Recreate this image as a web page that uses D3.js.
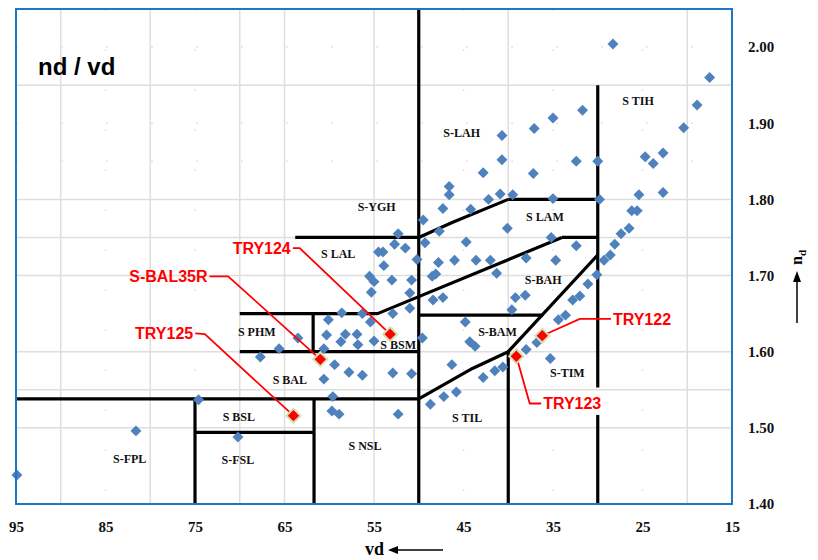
<!DOCTYPE html>
<html><head><meta charset="utf-8">
<script src="https://cdn.jsdelivr.net/npm/d3@7"></script>
<style>body{margin:0;background:#fff;} svg{display:block;}</style>
</head><body><svg id="c" width="818" height="560"></svg>
<script>
// ---------- data ----------
const xTicks = [95, 85, 75, 65, 55, 45, 35, 25, 15];
const yTicks = [1.40, 1.50, 1.60, 1.70, 1.80, 1.90, 2.00];
const gridSolidX = [90, 80, 70, 65, 55, 40, 20];
const gridDotX = [85, 75, 45, 35, 25];
const gridSolidY = [1.95, 1.80, 1.75, 1.70, 1.60, 1.55, 1.50];
const gridDotY = [2.00, 1.90, 1.85];

// glass points [vd, nd]
const glasses = [
 [28.3,2.004],[17.5,1.960],[18.9,1.924],[20.4,1.894],[31.7,1.917],[35.0,1.907],[37.1,1.893],[40.7,1.884],
 [40.7,1.852],[42.8,1.835],[37.2,1.834],[32.4,1.850],[30.0,1.850],[24.7,1.856],[23.8,1.847],[22.7,1.861],
 [46.6,1.817],[46.6,1.806],[40.9,1.807],[39.5,1.806],[42.2,1.800],[44.2,1.787],[47.3,1.788],[49.5,1.773],
 [35.0,1.801],[29.8,1.800],[25.4,1.806],[22.7,1.809],[26.2,1.785],[25.6,1.785],[26.5,1.762],[27.4,1.755],
 [28.1,1.741],[28.6,1.727],[29.3,1.720],[30.1,1.701],
 [40.1,1.762],[35.2,1.750],[32.4,1.739],[34.7,1.720],[38.0,1.723],[42.0,1.720],[43.6,1.720],[46.0,1.720],
 [47.8,1.717],[50.2,1.721],[51.5,1.736],[52.3,1.755],[52.7,1.741],[47.7,1.758],[49.3,1.743],[44.7,1.744],
 [41.3,1.703],[48.5,1.699],[48.1,1.702],[50.8,1.694],[51.0,1.677],[51.0,1.657],[48.4,1.668],[47.3,1.671],
 [39.2,1.671],[38.1,1.674],[39.6,1.655],[44.8,1.639],
 [31.1,1.689],[32.0,1.673],[32.8,1.668],[33.6,1.648],[34.4,1.642],
 [44.3,1.613],[43.7,1.607],[46.3,1.583],[42.8,1.566],[41.5,1.575],[40.6,1.580],[48.7,1.531],[47.2,1.541],
 [45.8,1.547],[38.0,1.603],[36.8,1.612],[35.3,1.591],[49.6,1.618],[50.8,1.571],[52.3,1.518],
 [54.5,1.731],[54.0,1.731],[53.9,1.713],[55.5,1.699],[55.0,1.692],[53.0,1.694],[55.3,1.678],[52.9,1.650],
 [55.4,1.639],[58.6,1.651],[60.1,1.642],[60.3,1.622],[58.2,1.623],[56.9,1.623],[56.3,1.650],[58.7,1.613],
 [56.8,1.609],[55.0,1.614],[60.6,1.604],[63.5,1.618],[65.6,1.604],[67.7,1.593],[59.4,1.583],[57.8,1.573],
 [56.3,1.569],[52.9,1.572],[60.6,1.564],[59.6,1.541],[59.7,1.522],[58.9,1.518],
 [70.2,1.488],[74.6,1.537],[94.9,1.438],[81.6,1.496]
];

// highlighted glasses: name, marker [vd,nd], label [vd,nd], elbow [vd,nd], side
const highlightNames = ["TRY124", "S-BAL35R", "TRY125", "TRY122", "TRY123"];
const highlightPts = [[53.2,1.623],[61.0,1.590],[64.0,1.516],[36.2,1.621],[39.1,1.594]];
const highlightLabelPts = [[64.3,1.736],[73.6,1.699],[75.2,1.624],[28.3,1.643],[36.1,1.532]];
const highlightElbows = [[63.3,1.736],[71.3,1.699],[73.9,1.623],[32.0,1.643],[37.6,1.532]];
const highlightAnchor = ["end","end","end","start","start"];

// glass region boundaries (polylines, [vd, nd])
const boundaries = [
 [[50,2.05],[50,1.40]],
 [[30,1.95],[30,1.553]],
 [[30,1.517],[30,1.40]],
 [[40,1.80],[30,1.80]],
 [[50,1.75],[46.2,1.770],[40,1.80]],
 [[63.8,1.75],[50,1.75]],
 [[34,1.75],[30,1.75]],
 [[70,1.65],[54.6,1.65],[34,1.75]],
 [[50,1.648],[36.1,1.648]],
 [[70,1.60],[50,1.60]],
 [[61.8,1.65],[61.8,1.60]],
 [[95,1.538],[50,1.538],[44,1.578],[40,1.60],[30,1.727]],
 [[40,1.60],[40,1.40]],
 [[75,1.538],[75,1.40]],
 [[75,1.494],[61.7,1.494]],
 [[61.7,1.538],[61.7,1.40]]
];

// region names and their centres [vd, nd]
const regionNames = ["S-YGH","S LAL","S-LAH","S TIH","S LAM","S-BAH","S-BAM","S PHM","S BSM","S BAL","S BSL","S-FSL","S NSL","S TIL","S-TIM","S-FPL"];
const regionPts = [[54.7,1.790],[59.0,1.728],[45.2,1.887],[25.5,1.930],[35.9,1.777],[36.1,1.695],[41.2,1.626],[68.1,1.626],[52.3,1.609],[64.4,1.563],[70.1,1.514],[70.2,1.458],[56.0,1.476],[44.6,1.513],[33.4,1.572],[82.3,1.460]];

// ---------- chart ----------
const svg = d3.select("#c");
const x = d3.scaleLinear().domain([95, 15]).range([16, 732]);
const y = d3.scaleLinear().domain([1.40, 2.05]).range([504, 9]);
const X0 = x.range()[0], X1 = x.range()[1], Y0 = y.range()[0], Y1 = y.range()[1];

const grid = svg.append("g");
grid.selectAll("line.gsx").data(gridSolidX).join("line")
  .attr("x1", d => x(d)).attr("x2", d => x(d)).attr("y1", Y1).attr("y2", Y0)
  .attr("stroke", "#dedede").attr("stroke-width", 1.5);
grid.selectAll("line.gdx").data(gridDotX).join("line")
  .attr("x1", d => x(d)).attr("x2", d => x(d)).attr("y1", Y1).attr("y2", Y0)
  .attr("stroke", "#e4e4e4").attr("stroke-width", 1.5).attr("stroke-dasharray", "2,38");
grid.selectAll("line.gsy").data(gridSolidY).join("line")
  .attr("y1", d => y(d)).attr("y2", d => y(d)).attr("x1", X0).attr("x2", X1)
  .attr("stroke", "#dedede").attr("stroke-width", 1.5);
grid.selectAll("line.gdy").data(gridDotY).join("line")
  .attr("y1", d => y(d)).attr("y2", d => y(d)).attr("x1", X0).attr("x2", X1)
  .attr("stroke", "#e4e4e4").attr("stroke-width", 1.5).attr("stroke-dasharray", "2,43");

// boundaries
const line = d3.line().x(d => x(d[0])).y(d => y(d[1]));
svg.append("g").selectAll("path").data(boundaries).join("path")
  .attr("d", line).attr("fill", "none").attr("stroke", "#000")
  .attr("stroke-width", 3.2).attr("stroke-linejoin", "round");

// glass points
const diamond = d3.symbol(d3.symbolSquare, 60);
svg.append("g").selectAll("path").data(glasses).join("path")
  .attr("d", diamond)
  .attr("transform", d => `translate(${x(d[0])},${y(d[1])}) rotate(45)`)
  .attr("fill", "#4f81bd");

// region labels
svg.append("g").selectAll("text").data(regionNames).join("text")
  .attr("x", (d, i) => x(regionPts[i][0])).attr("y", (d, i) => y(regionPts[i][1]))
  .attr("dy", "0.35em").attr("text-anchor", "middle")
  .attr("font-family", "'Liberation Serif', 'Times New Roman', serif")
  .attr("font-weight", "bold").attr("font-size", 12).attr("fill", "#111")
  .text(d => d);

// highlighted glasses
const hl = svg.append("g");
hl.selectAll("path.lead").data(highlightNames).join("path")
  .attr("d", (d, i) => {
    const lp = highlightLabelPts[i];
    const s = highlightAnchor[i] === "end" ? 2 : -2;
    return `M${x(lp[0]) + s},${y(lp[1])}L${x(highlightElbows[i][0])},${y(highlightElbows[i][1])}L${x(highlightPts[i][0])},${y(highlightPts[i][1])}`;
  })
  .attr("fill", "none").attr("stroke", "#ff0000").attr("stroke-width", 1.8);
hl.selectAll("path.mk").data(highlightPts).join("path")
  .attr("d", d3.symbol(d3.symbolSquare, 100))
  .attr("transform", d => `translate(${x(d[0])},${y(d[1])}) rotate(45)`)
  .attr("fill", "#ff0000").attr("stroke", "#d4e2b4").attr("stroke-width", 2);
hl.selectAll("text").data(highlightNames).join("text")
  .attr("x", (d, i) => x(highlightLabelPts[i][0])).attr("y", (d, i) => y(highlightLabelPts[i][1]))
  .attr("dy", "0.36em").attr("text-anchor", (d, i) => highlightAnchor[i])
  .attr("font-family", "'Liberation Sans', Arial, sans-serif")
  .attr("font-weight", "bold").attr("font-size", 16).attr("fill", "#ff0000")
  .text(d => d);

// frame
svg.append("rect").attr("x", X0).attr("y", Y1).attr("width", X1 - X0).attr("height", Y0 - Y1)
  .attr("fill", "none").attr("stroke", "#1f76c8").attr("stroke-width", 2);

// axes
const ax = svg.append("g").attr("transform", `translate(0,${Y0})`)
  .call(d3.axisBottom(x).tickValues(xTicks).tickSize(0).tickPadding(17).tickFormat(d3.format("d")));
const ay = svg.append("g").attr("transform", `translate(${X1},0)`)
  .call(d3.axisRight(y).tickValues(yTicks).tickSize(0).tickPadding(16).tickFormat(d3.format(".2f")));
[ax, ay].forEach(a => {
  a.select(".domain").remove();
  a.selectAll("text").attr("font-family", "'Liberation Serif', 'Times New Roman', serif")
    .attr("font-weight", "bold").attr("font-size", 15).attr("fill", "#111");
});

// title
svg.append("text").attr("x", 38).attr("y", 75)
  .attr("font-family", "'Liberation Sans', Arial, sans-serif").attr("font-weight", "bold")
  .attr("font-size", 24).attr("fill", "#000").text("nd / vd");

// x axis title with arrow
svg.append("text").attr("x", 365).attr("y", 555)
  .attr("font-family", "'Liberation Serif', 'Times New Roman', serif").attr("font-weight", "bold")
  .attr("font-size", 18).attr("fill", "#000").text("vd");
svg.append("line").attr("x1", 443).attr("x2", 396).attr("y1", 550).attr("y2", 550)
  .attr("stroke", "#000").attr("stroke-width", 1.5);
svg.append("path").attr("d", "M388,550L398,546L398,554Z").attr("fill", "#000");

// y axis title with arrow
const yt = svg.append("text").attr("transform", "translate(802,265) rotate(-90)")
  .attr("font-family", "'Liberation Serif', 'Times New Roman', serif").attr("font-weight", "bold")
  .attr("font-size", 16).attr("fill", "#000");
yt.append("tspan").text("n");
yt.append("tspan").attr("dy", 4).attr("font-size", 11).text("d");
svg.append("line").attr("x1", 797).attr("x2", 797).attr("y1", 323).attr("y2", 280)
  .attr("stroke", "#000").attr("stroke-width", 1.5);
svg.append("path").attr("d", "M797,271L793,282L801,282Z").attr("fill", "#000");
</script></body></html>
